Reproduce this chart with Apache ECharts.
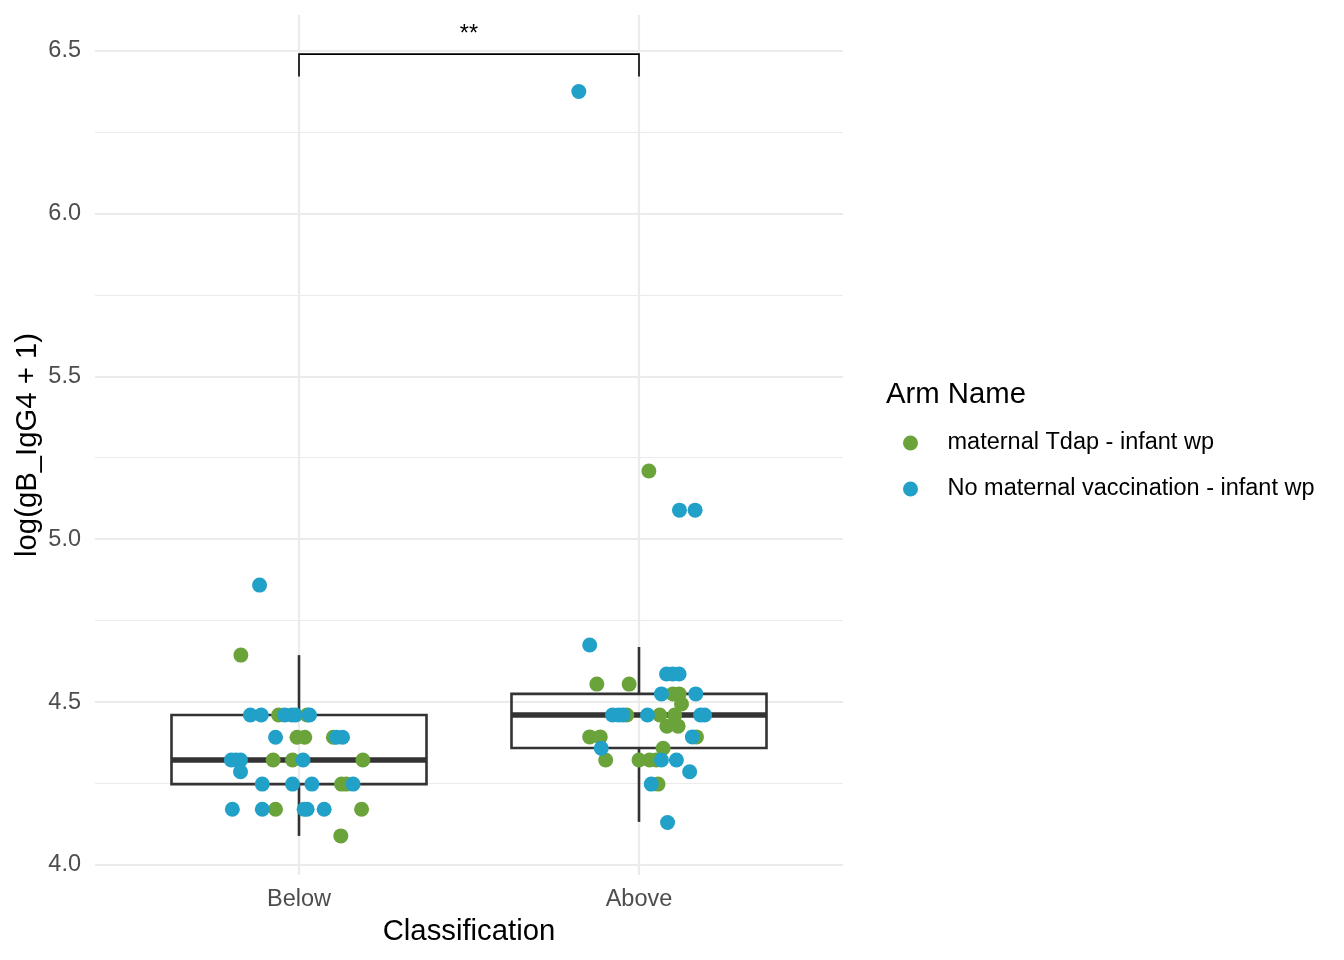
<!DOCTYPE html>
<html>
<head>
<meta charset="utf-8">
<script src="https://cdn.jsdelivr.net/npm/echarts@6/dist/echarts.min.js"></script>
<style>
html, body { margin: 0; padding: 0; background: #ffffff; }
#chart { width: 1344px; height: 960px; }
</style>
</head>
<body>
<div id="chart"></div>
<script>
// categories on the x axis (placed at 1 and 2)
var categories = ['Below', 'Above'];
var armNames = ['maternal Tdap - infant wp', 'No maternal vaccination - infant wp'];

// jittered points: [offset from category, log(gB_IgG4 + 1)]
var tdapBelow = [
    [-0.171, 4.644], [-0.060, 4.460], [0.024, 4.460], [-0.006, 4.392], [0.017, 4.392],
    [0.101, 4.392], [-0.076, 4.322], [-0.019, 4.322], [0.188, 4.322], [0.125, 4.248],
    [0.139, 4.248], [-0.069, 4.171], [0.184, 4.171], [0.123, 4.089]
];
var tdapAbove = [
    [0.029, 5.209], [-0.124, 4.555], [-0.029, 4.555], [0.100, 4.525], [0.118, 4.525],
    [0.125, 4.494], [-0.036, 4.460], [0.061, 4.460], [0.105, 4.460], [0.082, 4.426],
    [0.115, 4.426], [-0.145, 4.393], [-0.114, 4.393], [0.169, 4.393], [0.071, 4.358],
    [-0.098, 4.322], [0.000, 4.322], [0.031, 4.322], [0.051, 4.322], [0.056, 4.248]
];
var noVacBelow = [
    [-0.116, 4.859], [-0.143, 4.460], [-0.111, 4.460], [-0.042, 4.460], [-0.021, 4.460],
    [-0.010, 4.460], [0.031, 4.460], [-0.069, 4.392], [0.110, 4.392], [0.128, 4.392],
    [-0.199, 4.322], [-0.186, 4.322], [-0.172, 4.322], [0.012, 4.322], [-0.172, 4.286],
    [-0.108, 4.248], [-0.019, 4.248], [0.038, 4.248], [0.159, 4.248], [-0.196, 4.171],
    [-0.108, 4.171], [0.015, 4.171], [0.024, 4.171], [0.074, 4.171]
];
var noVacAbove = [
    [-0.177, 6.374], [0.119, 5.089], [0.165, 5.089], [-0.145, 4.675], [0.081, 4.586],
    [0.099, 4.586], [0.118, 4.586], [0.066, 4.525], [0.167, 4.525], [-0.078, 4.460],
    [-0.060, 4.460], [-0.047, 4.460], [0.025, 4.460], [0.181, 4.460], [0.193, 4.460],
    [0.157, 4.393], [-0.111, 4.358], [0.066, 4.322], [0.110, 4.322], [0.149, 4.286],
    [0.036, 4.248], [0.084, 4.130]
];

// box stats: [category position, lower whisker, Q1, median, Q3, upper whisker]
var boxStats = [
    [1, 4.089, 4.248, 4.322, 4.460, 4.644],
    [2, 4.132, 4.359, 4.460, 4.525, 4.669]
];

// significance bracket: [from, to, bracket height, tip end, label]
var bracket = [[1, 2, 6.489, 6.420, '**']];

var yMajorTicks = [4.0, 4.5, 5.0, 5.5, 6.0, 6.5];
var yMinorTicks = [4.25, 4.75, 5.25, 5.75, 6.25];

function place(points, pos) {
    var out = [];
    for (var i = 0; i < points.length; i++) {
        out.push([pos + points[i][0], points[i][1]]);
    }
    return out;
}

var chart = echarts.init(document.getElementById('chart'));
var font = 'Liberation Sans, Arial, Helvetica, sans-serif';
var gridColor = '#ebebeb';

var renderBox = function (params, api) {
    var x = api.value(0);
    var half = api.size([0.75, 0])[0] / 2;
    var lo = api.coord([x, api.value(1)]);
    var q1 = api.coord([x, api.value(2)]);
    var med = api.coord([x, api.value(3)]);
    var q3 = api.coord([x, api.value(4)]);
    var hi = api.coord([x, api.value(5)]);
    var st = { stroke: '#333333', lineWidth: 2.6, fill: null };
    return {
        type: 'group',
        children: [
            { type: 'line', shape: { x1: lo[0], y1: lo[1], x2: q1[0], y2: q1[1] }, style: st },
            { type: 'line', shape: { x1: q3[0], y1: q3[1], x2: hi[0], y2: hi[1] }, style: st },
            { type: 'rect', shape: { x: q3[0] - half, y: q3[1], width: half * 2, height: q1[1] - q3[1] }, style: st },
            { type: 'line', shape: { x1: med[0] - half, y1: med[1], x2: med[0] + half, y2: med[1] },
              style: { stroke: '#333333', lineWidth: 5.5 } }
        ]
    };
};

var renderBracket = function (params, api) {
    var a = api.coord([api.value(0), api.value(2)]);
    var b = api.coord([api.value(1), api.value(2)]);
    var ta = api.coord([api.value(0), api.value(3)]);
    var tb = api.coord([api.value(1), api.value(3)]);
    return {
        type: 'group',
        children: [
            { type: 'polyline', shape: { points: [[ta[0], ta[1]], [a[0], a[1]], [b[0], b[1]], [tb[0], tb[1]]] },
              style: { stroke: '#000000', lineWidth: 1.6, fill: null } },
            { type: 'text', x: (a[0] + b[0]) / 2, y: a[1] - 8,
              style: { text: bracket[params.dataIndex][4], fill: '#000000', font: '23.5px ' + font,
                       align: 'center', verticalAlign: 'bottom' } }
        ]
    };
};

var option = {
    animation: false,
    backgroundColor: '#ffffff',
    textStyle: { fontFamily: font },
    title: {
        text: 'Arm Name',
        left: 886,
        top: 378,
        padding: 0,
        textStyle: { fontSize: 29.3, fontWeight: 'normal', color: '#000000', fontFamily: font, lineHeight: 34 }
    },
    legend: {
        orient: 'vertical',
        left: 903,
        top: 430,
        padding: 0,
        itemWidth: 64,
        itemHeight: 15,
        itemGap: 20,
        icon: 'circle',
        data: armNames,
        textStyle: { fontSize: 23.5, color: '#000000', fontFamily: font, lineHeight: 26 }
    },
    grid: { left: 95, right: 501, top: 15, bottom: 85 },
    xAxis: {
        type: 'value',
        min: 0.4,
        max: 2.6,
        name: 'Classification',
        nameLocation: 'middle',
        nameGap: 42,
        nameTextStyle: { fontSize: 29.3, color: '#000000', fontFamily: font, verticalAlign: 'top' },
        axisLine: { show: false },
        axisTick: { show: false, customValues: [1, 2] },
        axisLabel: {
            customValues: [1, 2],
            margin: 13,
            fontSize: 23.5,
            color: '#4d4d4d',
            formatter: function (v) { return categories[Math.round(v) - 1]; }
        },
        splitLine: { show: true, lineStyle: { color: gridColor, width: 2.2 } }
    },
    yAxis: [{
        type: 'value',
        min: 3.969,
        max: 6.609,
        name: 'log(gB_IgG4 + 1)',
        nameLocation: 'middle',
        nameGap: 53,
        nameRotate: 90,
        nameMoveOverlap: false,
        nameTextStyle: { fontSize: 29.3, color: '#000000', fontFamily: font },
        axisLine: { show: false },
        axisTick: { show: false, customValues: yMajorTicks },
        axisLabel: {
            customValues: yMajorTicks,
            margin: 14,
            fontSize: 23.5,
            color: '#4d4d4d',
            formatter: function (v) { return v.toFixed(1); }
        },
        splitLine: { show: true, lineStyle: { color: gridColor, width: 2.2 } }
    }, {
        type: 'value',
        min: 3.969,
        max: 6.609,
        position: 'left',
        axisLine: { show: false },
        axisTick: { show: false, customValues: yMinorTicks },
        axisLabel: { show: false, customValues: yMinorTicks },
        splitLine: { show: true, lineStyle: { color: gridColor, width: 1.1 } }
    }],
    series: [{
        type: 'custom',
        name: 'box',
        renderItem: renderBox,
        data: boxStats,
        clip: false,
        silent: true,
        z: 2
    }, {
        type: 'custom',
        name: 'bracket',
        renderItem: renderBracket,
        data: bracket,
        clip: false,
        silent: true,
        z: 2
    }, {
        type: 'scatter',
        name: armNames[0],
        symbolSize: 15,
        itemStyle: { color: '#6ba33b', opacity: 1 },
        data: place(tdapBelow, 1).concat(place(tdapAbove, 2)),
        z: 3
    }, {
        type: 'scatter',
        name: armNames[1],
        symbolSize: 15,
        itemStyle: { color: '#21a0c8', opacity: 1 },
        data: place(noVacBelow, 1).concat(place(noVacAbove, 2)),
        z: 3
    }]
};
chart.setOption(option);
</script>
</body>
</html>
